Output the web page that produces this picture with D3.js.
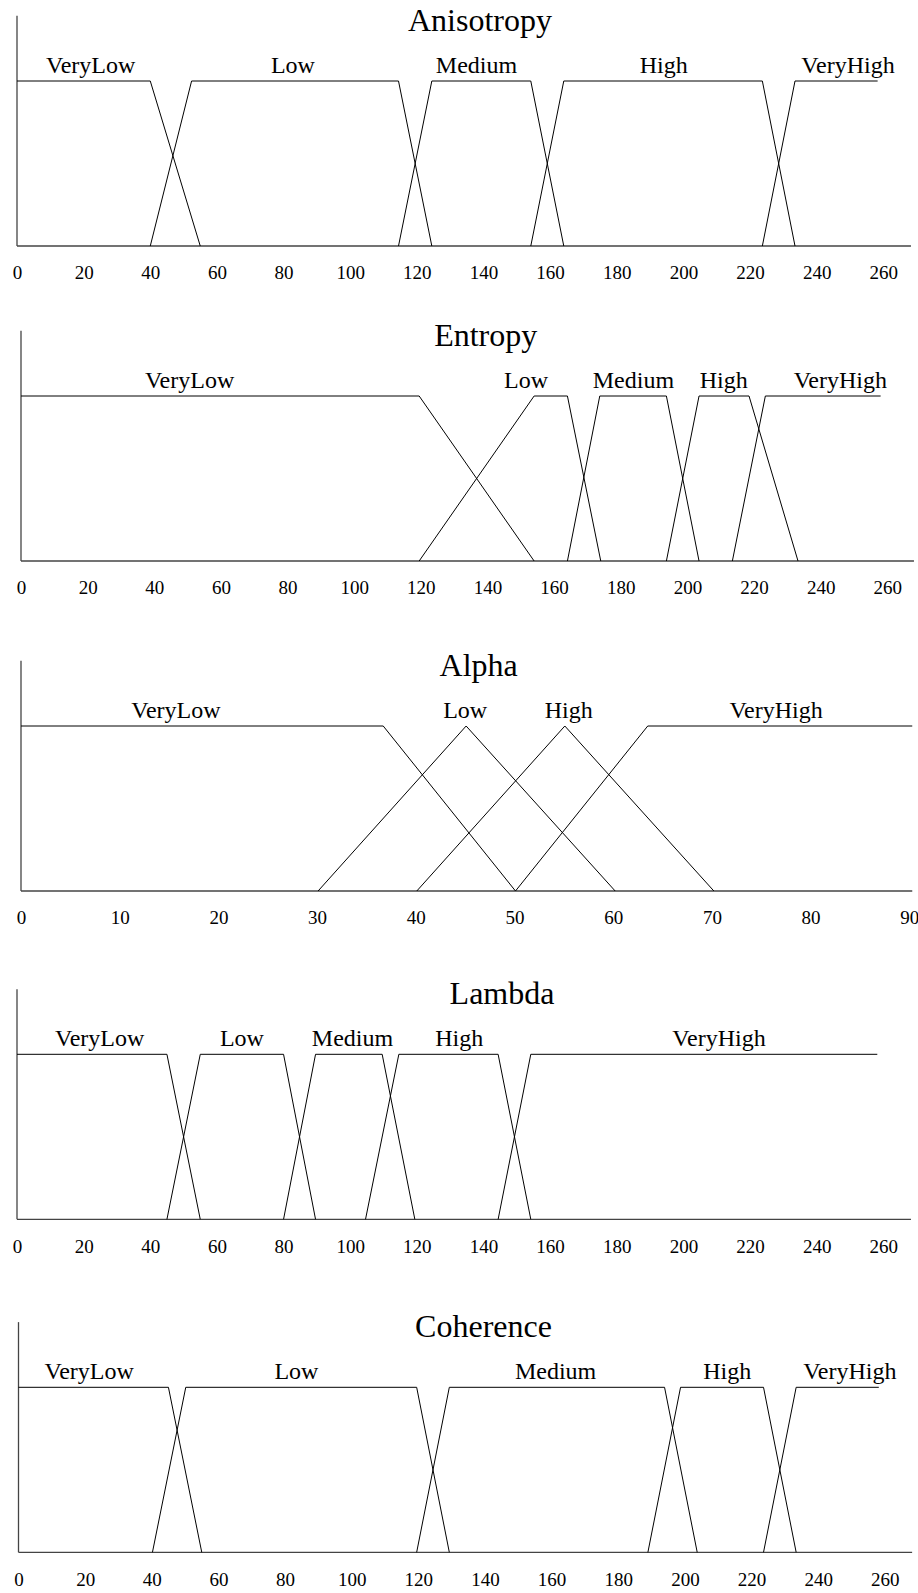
<!DOCTYPE html>
<html>
<head>
<meta charset="utf-8">
<script src="https://d3js.org/d3.v7.min.js"></script>
<style>
	body { margin: 0; background: #fff; }
	svg { display: block; }
	text { font-family: "Liberation Serif", "Times New Roman", serif; fill: #000; }
</style>
</head>
<body>
<svg width="918" height="1593"></svg>
<script>
	// titles and tick labels
	var titles = ["Anisotropy", "Entropy", "Alpha", "Lambda", "Coherence"];
	var terms5 = ["VeryLow", "Low", "Medium", "High", "VeryHigh"];
	var terms4 = ["VeryLow", "Low", "High", "VeryHigh"];
	var ticks260 = [0, 20, 40, 60, 80, 100, 120, 140, 160, 180, 200, 220, 240, 260];
	var ticks90 = [0, 10, 20, 30, 40, 50, 60, 70, 80, 90];

	// membership functions: [x, mu] break points
	var anisotropySets = [
		[[0, 1], [40, 1], [55, 0]],
		[[40, 0], [52.4, 1], [114.5, 1], [124.5, 0]],
		[[114.5, 0], [124.5, 1], [154.2, 1], [164.1, 0]],
		[[154.2, 0], [164.1, 1], [223.7, 1], [233.5, 0]],
		[[223.7, 0], [233.5, 1], [258.3, 1]]
	];
	var anisotropyLabelAt = [22.1, 82.8, 137.9, 194.1, 249.4];

	var entropySets = [
		[[0, 1], [119.5, 1], [154, 0]],
		[[119.5, 0], [154, 1], [164, 1], [174, 0]],
		[[164, 0], [173.7, 1], [193.7, 1], [203.5, 0]],
		[[193.7, 0], [203.5, 1], [218.5, 1], [233.2, 0]],
		[[213.5, 0], [223.4, 1], [258, 1]]
	];
	var entropyLabelAt = [50.6, 151.6, 183.8, 210.9, 245.9];

	var alphaSets = [
		[[0, 1], [36.7, 1], [50.1, 0]],
		[[30.1, 0], [45.1, 1], [60.2, 0]],
		[[40.1, 0], [55.1, 1], [70.2, 0]],
		[[50.1, 0], [63.5, 1], [90.3, 1]]
	];
	var alphaLabelAt = [15.7, 45.0, 55.5, 76.5];

	var lambdaSets = [
		[[0, 1], [45, 1], [55, 0]],
		[[45, 0], [55, 1], [80, 1], [89.6, 0]],
		[[80, 0], [89.6, 1], [109.6, 1], [119.4, 0]],
		[[104.6, 0], [114.6, 1], [144.4, 1], [154.2, 0]],
		[[144.4, 0], [154.2, 1], [258.2, 1]]
	];
	var lambdaLabelAt = [24.8, 67.5, 100.7, 132.7, 210.7];

	var coherenceSets = [
		[[0, 1], [45, 1], [55, 0]],
		[[40.2, 0], [50.2, 1], [119.5, 1], [129.3, 0]],
		[[119.5, 0], [129.3, 1], [193.9, 1], [203.7, 0]],
		[[188.9, 0], [198.7, 1], [223.6, 1], [233.4, 0]],
		[[223.6, 0], [233.4, 1], [258.2, 1]]
	];
	var coherenceLabelAt = [21.2, 83.4, 161.2, 212.7, 249.5];

	var panels = [
		{title: titles[0], terms: terms5, sets: anisotropySets, labelAt: anisotropyLabelAt, ticks: ticks260, domain: [0, 260], xMax: 268.3},
		{title: titles[1], terms: terms5, sets: entropySets, labelAt: entropyLabelAt, ticks: ticks260, domain: [0, 260], xMax: 268},
		{title: titles[2], terms: terms4, sets: alphaSets, labelAt: alphaLabelAt, ticks: ticks90, domain: [0, 90], xMax: 90.3},
		{title: titles[3], terms: terms5, sets: lambdaSets, labelAt: lambdaLabelAt, ticks: ticks260, domain: [0, 260], xMax: 268.3},
		{title: titles[4], terms: terms5, sets: coherenceSets, labelAt: coherenceLabelAt, ticks: ticks260, domain: [0, 260], xMax: 268.2}
	];

	// page layout of each panel (baseline y, x range, title centre)
	var layout = [
		{base: 246, x0: 17, x1: 883.3, titleX: 480},
		{base: 561, x0: 21, x1: 887.3, titleX: 485.7},
		{base: 891, x0: 21, x1: 909.3, titleX: 478.7},
		{base: 1219.3, x0: 17, x1: 883.3, titleX: 502},
		{base: 1552.3, x0: 18.5, x1: 884.8, titleX: 483.5}
	];
	var plotHeight = 165;
	var yTop = 1.395;

	var svg = d3.select("svg");

	panels.forEach(function(p, i) {
		var L = layout[i];
		var x = d3.scaleLinear().domain(p.domain).range([L.x0, L.x1]);
		var y = d3.scaleLinear().domain([0, 1]).range([L.base, L.base - plotHeight]);
		var g = svg.append("g").attr("class", "panel");

		// axes lines
		g.append("line")
			.attr("x1", x(0)).attr("x2", x(0))
			.attr("y1", y(0)).attr("y2", y(yTop))
			.attr("stroke", "#444").attr("stroke-width", 1.3);
		g.append("line")
			.attr("x1", x(0)).attr("x2", x(p.xMax))
			.attr("y1", y(0)).attr("y2", y(0))
			.attr("stroke", "#444").attr("stroke-width", 1.3);

		var axis = g.append("g")
			.attr("transform", "translate(0," + y(0) + ")")
			.call(d3.axisBottom(x).tickValues(p.ticks).tickSize(0).tickPadding(20).tickFormat(d3.format("d")));
		axis.select(".domain").remove();
		axis.selectAll("text")
			.attr("font-family", "Liberation Serif, Times New Roman, serif")
			.attr("font-size", 19)
			.attr("fill", "#000");

		var line = d3.line()
			.x(function(d) { return x(d[0]); })
			.y(function(d) { return y(d[1]); });

		g.selectAll(".mf")
			.data(p.sets)
			.enter().append("path")
			.attr("class", "mf")
			.attr("d", line)
			.attr("fill", "none")
			.attr("stroke", "#000")
			.attr("stroke-width", 1);

		g.selectAll(".term")
			.data(p.terms)
			.enter().append("text")
			.attr("class", "term")
			.attr("x", function(d, j) { return x(p.labelAt[j]); })
			.attr("y", y(1) - 8)
			.attr("text-anchor", "middle")
			.attr("font-size", 24)
			.text(function(d) { return d; });

		g.append("text")
			.attr("x", L.titleX)
			.attr("y", L.base - 215)
			.attr("text-anchor", "middle")
			.attr("font-size", 32)
			.text(p.title);
	});
</script>
</body>
</html>
